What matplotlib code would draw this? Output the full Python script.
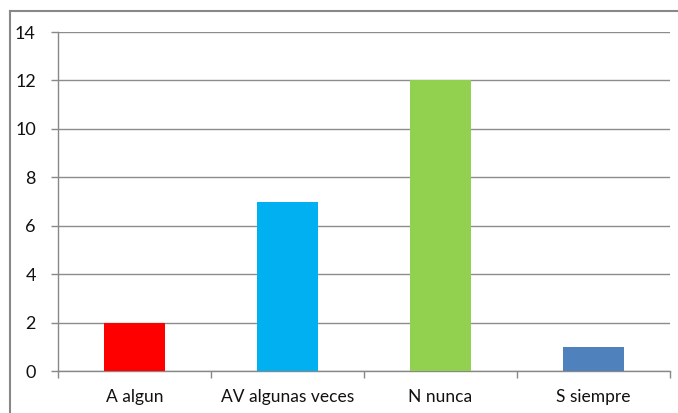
import numpy as np
import matplotlib.pyplot as plt
from matplotlib.lines import Line2D

categories = ['A algun', 'AV algunas veces', 'N nunca', 'S siempre']
counts = [2, 7, 12, 1]
bar_colors = ['#FF0000', '#00B0F0', '#92D050', '#4F81BD']
y_ticks = [0, 2, 4, 6, 8, 10, 12, 14]

plt.rcParams['font.family'] = ['Lato', 'DejaVu Sans']

W, H = 678, 413
fig = plt.figure(figsize=(W / 100, H / 100), dpi=100)
ax = fig.add_axes([58 / W, 1 - 371 / H, (670 - 58) / W, (371 - 32) / H])

x = np.arange(len(categories))
ax.bar(x, counts, width=0.405, color=bar_colors, zorder=3)

ax.set_xlim(-0.5, len(categories) - 0.5)
ax.set_ylim(0, 14)
ax.set_yticks(y_ticks)
ax.set_yticklabels([str(v) for v in y_ticks], fontsize=13, color='#111111')
ax.set_xticks(x)
ax.set_xticklabels(categories, fontsize=12.5, color='#111111')
ax.tick_params(axis='x', length=0, pad=13)
ax.tick_params(axis='y', length=5, width=1, color='#888888', pad=11)

# category boundary ticks under the x axis
ax.set_xticks(np.arange(len(categories) + 1) - 0.5, minor=True)
ax.tick_params(axis='x', which='minor', length=5, width=1, color='#888888')

ax.grid(axis='y', color='#8c8c8c', linewidth=1, zorder=0)
for side in ['top', 'right']:
    ax.spines[side].set_visible(False)
for side in ['left', 'bottom']:
    ax.spines[side].set_color('#888888')
    ax.spines[side].set_linewidth(1)

# outer chart frame (only top and left visible in the crop)
fig.add_artist(Line2D([10 / W, 1], [1 - 11 / H, 1 - 11 / H], color='#888888', linewidth=1.5))
fig.add_artist(Line2D([10 / W, 10 / W], [0, 1 - 11 / H], color='#888888', linewidth=1.5))

fig.savefig('out.png', dpi=100)
